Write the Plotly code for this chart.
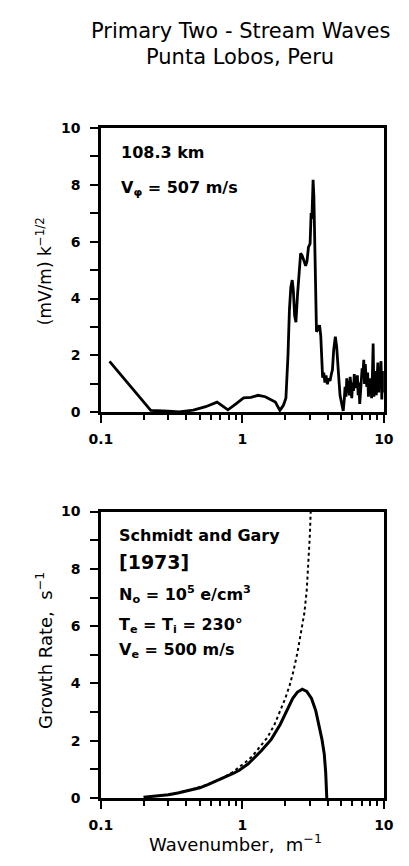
import plotly.graph_objects as go

W, H = 409, 866

# ---------------- data ----------------
# Top panel: field spectrum (mV/m) k^-1/2 vs wavenumber (m^-1)
spec_k = [0.115, 0.225, 0.30, 0.357, 0.45, 0.55, 0.662, 0.79, 0.90, 1.02, 1.15, 1.29,
          1.45, 1.60, 1.71, 1.84, 1.95, 2.03, 2.10, 2.15, 2.20, 2.25, 2.29, 2.34, 2.39,
          2.45, 2.52, 2.58, 2.65, 2.72, 2.80, 2.86, 2.93, 3.01, 3.06, 3.10, 3.16, 3.20,
          3.25, 3.29, 3.34, 3.42, 3.51, 3.58, 3.63, 3.69, 3.76, 3.83, 3.90, 3.99, 4.08,
          4.16, 4.25, 4.33, 4.42, 4.54, 4.64, 4.72, 4.80, 4.90, 5.03,
          5.16, 5.25, 5.32, 5.40, 5.47, 5.55, 5.62, 5.70, 5.78, 5.86, 5.93, 6.02, 6.10,
          6.18, 6.26, 6.33, 6.42, 6.50, 6.58, 6.67, 6.75, 6.84, 6.93, 7.02, 7.10, 7.21,
          7.30, 7.39, 7.48, 7.58, 7.68, 7.78, 7.88, 7.98, 8.08, 8.19, 8.30, 8.40, 8.50,
          8.61, 8.72, 8.84, 8.95, 9.07, 9.18, 9.30, 9.42, 9.55, 9.67, 9.80, 9.90, 10.0]
spec_v = [1.79, 0.07, 0.04, 0.02, 0.08, 0.20, 0.36, 0.09, 0.30, 0.51, 0.53, 0.60,
          0.55, 0.42, 0.36, 0.07, 0.25, 0.50, 2.00, 3.60, 4.40, 4.65, 4.30, 3.40, 3.17,
          4.10, 5.10, 5.59, 5.50, 5.30, 5.15, 5.30, 5.80, 5.93, 7.00, 6.80, 8.17, 7.60,
          5.50, 3.80, 2.83, 2.95, 3.06, 2.70, 1.80, 1.22, 1.40, 1.05, 1.30, 0.99, 1.20,
          1.10, 1.33, 1.50, 2.20, 2.66, 2.30, 1.50, 1.22, 0.60, 0.30,
          0.05, 0.45, 0.90, 0.55, 1.20, 0.70, 1.10, 0.60, 1.25, 0.90, 0.50, 1.05, 0.75,
          1.35, 0.85, 1.25, 0.95, 1.30, 0.60, 1.05, 0.30, 0.70, 1.15, 1.55, 1.20, 1.85,
          1.00, 1.70, 1.25, 0.90, 1.40, 0.55, 1.10, 0.65, 1.20, 0.50, 1.30, 2.42, 0.55,
          1.00, 1.45, 0.60, 1.35, 1.75, 0.70, 1.40, 0.90, 1.80, 0.45, 1.45, 0.70, 1.35]

# Bottom panel: growth rate (s^-1) vs wavenumber
growth_k = [0.20, 0.25, 0.30, 0.35, 0.42, 0.50, 0.57, 0.66, 0.76, 0.86, 0.95, 1.10,
            1.36, 1.60, 1.85, 2.05, 2.27, 2.45, 2.65, 2.85, 3.08, 3.30, 3.51, 3.65,
            3.79, 3.88, 3.95]
growth_v = [0.03, 0.07, 0.12, 0.18, 0.26, 0.36, 0.47, 0.60, 0.74, 0.86, 0.97, 1.20,
            1.65, 2.05, 2.57, 3.05, 3.48, 3.70, 3.80, 3.72, 3.48, 3.05, 2.46, 2.05,
            1.54, 0.90, 0.00]
dotted_k = [0.30, 0.40, 0.55, 0.70, 0.85, 0.95, 1.05, 1.17, 1.30, 1.50, 1.68, 1.85,
            2.00, 2.16, 2.30, 2.45, 2.60, 2.74, 2.85, 2.93, 3.00, 3.04]
dotted_v = [0.13, 0.25, 0.45, 0.66, 0.90, 1.07, 1.25, 1.45, 1.72, 2.11, 2.55, 3.02,
            3.45, 3.94, 4.45, 5.08, 5.75, 6.45, 7.25, 8.17, 9.20, 10.0]

x_tickvals = [0.1, 1, 10]
x_ticktext = ["0.1", "1", "10"]
x_minor = [0.2, 0.3, 0.4, 0.5, 0.6, 0.7, 0.8, 0.9, 2, 3, 4, 5, 6, 7, 8, 9]
y_tickvals = [0, 2, 4, 6, 8, 10]
y_minor = [1, 3, 5, 7, 9]

FONT = "DejaVu Sans"


def px(x):
    return x / W


def py(y):
    return 1 - y / H


fig = go.Figure()
fig.add_trace(go.Scatter(x=spec_k, y=spec_v, mode="lines", xaxis="x", yaxis="y",
                         line=dict(color="black", width=2.8), showlegend=False))
fig.add_trace(go.Scatter(x=dotted_k, y=dotted_v, mode="lines", xaxis="x2", yaxis="y2",
                         line=dict(color="black", width=2, dash="dot"), showlegend=False))
fig.add_trace(go.Scatter(x=growth_k, y=growth_v, mode="lines", xaxis="x2", yaxis="y2",
                         line=dict(color="black", width=3), showlegend=False))

xdom = [px(94), px(393)]


def xax(anchor):
    return dict(type="log", range=[-1, 1], domain=xdom, anchor=anchor,
                tickmode="array", tickvals=x_tickvals, ticktext=x_ticktext,
                ticks="outside", ticklen=8, tickwidth=2, tickcolor="black",
                minor=dict(tickmode="array", tickvals=x_minor, ticks="outside",
                           ticklen=5, tickwidth=2, tickcolor="black", showgrid=False),
                showline=True, linewidth=2.5, linecolor="black", mirror=True,
                showgrid=False, zeroline=False, ticklabelstandoff=4,
                tickfont=dict(family=FONT, size=14, color="black", weight="bold"))


def yax(anchor, dom):
    return dict(range=[0, 10], domain=dom, anchor=anchor,
                tickmode="array", tickvals=y_tickvals,
                ticks="outside", ticklen=8, tickwidth=2, tickcolor="black",
                minor=dict(tickmode="array", tickvals=y_minor, ticks="outside",
                           ticklen=8, tickwidth=2, tickcolor="black", showgrid=False),
                showline=True, linewidth=2.5, linecolor="black", mirror=True,
                showgrid=False, zeroline=False, ticklabelstandoff=7,
                tickfont=dict(family=FONT, size=14, color="black", weight="bold"))


ann = []


def text(x, y, s, size=15, xanchor="left", angle=0, weight="normal"):
    ann.append(dict(x=px(x), y=py(y), xref="paper", yref="paper", text=s,
                    showarrow=False, xanchor=xanchor, yanchor="middle",
                    textangle=angle,
                    font=dict(family=FONT, size=size, color="black", weight=weight)))


# titles
text(241, 23, "Primary Two - Stream Waves", size=21, xanchor="center")
text(241, 50, "Punta Lobos, Peru", size=21, xanchor="center")

# top panel text
text(113, 147, "108.3 km", size=16, weight="bold")
text(113, 184, "V<sub>φ</sub> = 507 m/s", size=16, weight="bold")

# bottom panel text
text(111, 537, "Schmidt and Gary", size=16, weight="bold")
text(111, 564, "[1973]", size=19, weight="bold")
text(111, 598, "N<sub>o</sub> = 10<sup>5</sup> e/cm<sup>3</sup>", size=16, weight="bold")
text(111, 629, "T<sub>e</sub> = T<sub>i</sub> = 230°", size=16, weight="bold")
text(111, 655, "V<sub>e</sub> = 500 m/s", size=16, weight="bold")

# axis titles
text(236, 851, "Wavenumber,  m<sup>−1</sup>", size=18, xanchor="center")
text(34, 655, "Growth Rate,  s<sup>−1</sup>", size=18, xanchor="center", angle=-90)
text(34, 268, "(mV/m) k<sup>−1/2</sup>", size=17, xanchor="center", angle=-90)

fig.update_layout(
    width=W, height=H,
    margin=dict(l=0, r=0, t=0, b=0),
    paper_bgcolor="white", plot_bgcolor="white",
    xaxis=xax("y"),
    yaxis=yax("x", [py(412), py(122)]),
    xaxis2=xax("y2"),
    yaxis2=yax("x2", [py(805), py(513)]),
    annotations=ann,
    showlegend=False,
)

fig.write_html("out.html")
